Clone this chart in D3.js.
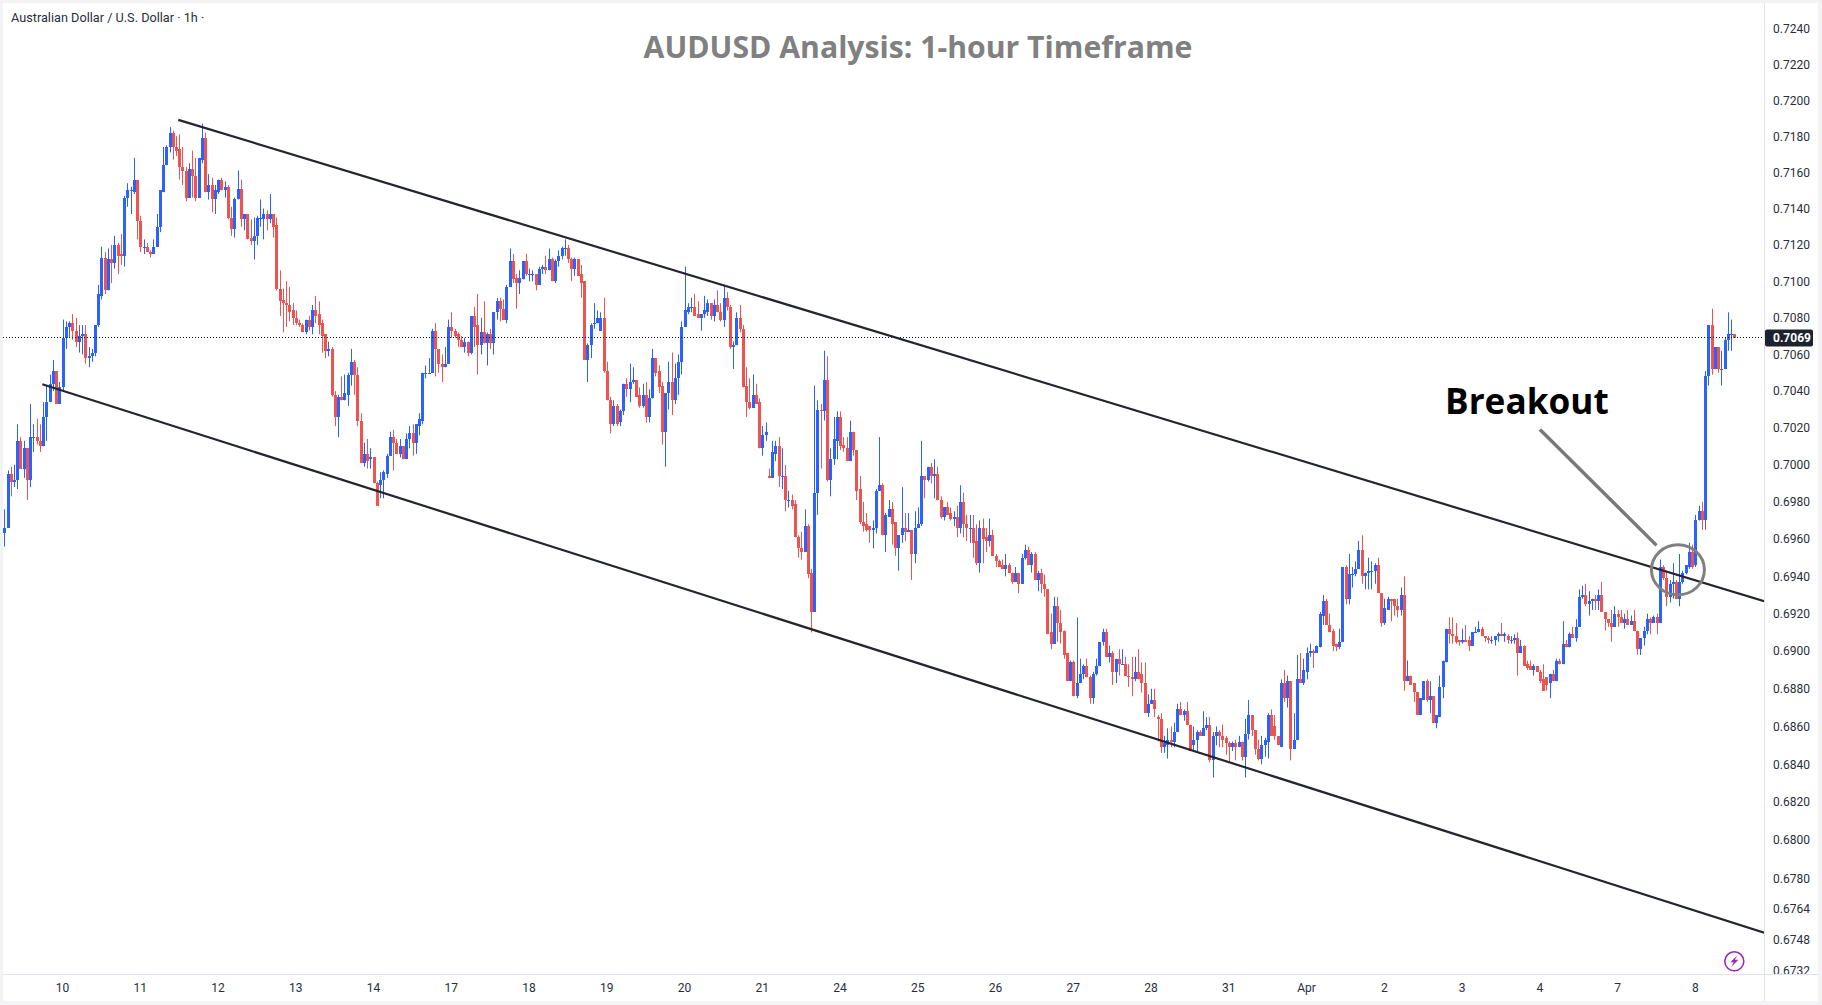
<!DOCTYPE html>
<html>
<head>
<meta charset="utf-8">
<title>AUDUSD Analysis: 1-hour Timeframe</title>
<script src="https://cdn.jsdelivr.net/npm/d3@7/dist/d3.min.js"></script>
<style>
html,body{margin:0;padding:0;background:#fff;overflow:hidden}
svg{display:block}
</style>
</head>
<body>
<div id="chart"></div>
<script>
// Hourly candles per trading session, each row: [open, high, low, close]
const mar07 = [[.6963,.6976,.6956,.6966],[.6966,.6997,.6966,.6995],[.6995,.6999,.6983,.6991],[.6991,.7000,.6988,.6992],[.6992,.7022,.6987,.7013],[.7013,.7015,.6998,.6998],[.6998,.7013,.6993,.7009],[.7009,.7009,.6981,.6992],[.6992,.7033,.6988,.7015],[.7015,.7022,.7007,.7015],[.7015,.7025,.7011,.7013],[.7013,.7022,.7007,.7010],[.7010,.7034,.7010,.7026],[.7026,.7043,.7013,.7034],[.7034,.7049,.7034,.7044],[.7044,.7057,.7040,.7051],[.7051,.7051,.7033,.7033],[.7033,.7045,.7033,.7042]];
const mar10 = [[.7042,.7079,.7040,.7069],[.7069,.7078,.7063,.7075],[.7075,.7078,.7069,.7077],[.7077,.7082,.7068,.7073],[.7073,.7080,.7064,.7067],[.7067,.7076,.7061,.7070],[.7070,.7076,.7060,.7071],[.7071,.7076,.7055,.7058],[.7058,.7064,.7053,.7059],[.7059,.7063,.7056,.7061],[.7061,.7076,.7059,.7076],[.7076,.7098,.7075,.7093],[.7092,.7119,.7090,.7113],[.7113,.7116,.7093,.7095],[.7095,.7118,.7095,.7112],[.7112,.7120,.7099,.7110],[.7110,.7125,.7107,.7120],[.7120,.7121,.7104,.7114],[.7115,.7126,.7109,.7114],[.7114,.7147,.7108,.7146],[.7146,.7154,.7141,.7150],[.7150,.7152,.7137,.7150],[.7149,.7168,.7148,.7156],[.7156,.7156,.7123,.7133]];
const mar11 = [[.7133,.7136,.7116,.7119],[.7119,.7123,.7115,.7119],[.7119,.7121,.7116,.7116],[.7116,.7117,.7113,.7115],[.7115,.7123,.7115,.7119],[.7119,.7137,.7119,.7130],[.7130,.7150,.7127,.7150],[.7149,.7174,.7149,.7164],[.7164,.7175,.7164,.7174],[.7174,.7185,.7171,.7182],[.7182,.7183,.7167,.7174],[.7174,.7180,.7169,.7172],[.7173,.7181,.7156,.7163],[.7163,.7174,.7153,.7161],[.7161,.7163,.7144,.7146],[.7146,.7165,.7146,.7162],[.7162,.7172,.7146,.7158],[.7158,.7168,.7144,.7146],[.7146,.7168,.7146,.7168],[.7167,.7187,.7165,.7179],[.7179,.7182,.7149,.7149],[.7149,.7159,.7145,.7153],[.7153,.7157,.7138,.7145],[.7145,.7153,.7137,.7150]];
const mar12 = [[.7149,.7156,.7148,.7156],[.7156,.7157,.7150,.7150],[.7150,.7155,.7146,.7152],[.7152,.7153,.7134,.7135],[.7135,.7141,.7125,.7129],[.7129,.7146,.7124,.7145],[.7145,.7161,.7145,.7151],[.7151,.7156,.7130,.7134],[.7134,.7137,.7128,.7137],[.7137,.7137,.7123,.7123],[.7124,.7134,.7120,.7122],[.7122,.7135,.7112,.7125],[.7125,.7136,.7120,.7135],[.7135,.7145,.7130,.7135],[.7134,.7140,.7123,.7137],[.7137,.7139,.7128,.7134],[.7134,.7148,.7132,.7137],[.7137,.7137,.7124,.7130],[.7131,.7135,.7095,.7096],[.7096,.7106,.7081,.7089],[.7090,.7096,.7072,.7088],[.7088,.7100,.7075,.7087],[.7087,.7097,.7078,.7083],[.7084,.7088,.7076,.7080]];
const mar13 = [[.7080,.7084,.7076,.7077],[.7077,.7079,.7075,.7076],[.7076,.7077,.7072,.7072],[.7072,.7079,.7071,.7079],[.7079,.7081,.7073,.7075],[.7075,.7087,.7071,.7084],[.7084,.7092,.7077,.7081],[.7082,.7089,.7071,.7076],[.7077,.7079,.7061,.7070],[.7071,.7071,.7058,.7062],[.7062,.7067,.7059,.7063],[.7063,.7064,.7037,.7038],[.7038,.7040,.7021,.7026],[.7026,.7038,.7015,.7037],[.7037,.7048,.7035,.7035],[.7035,.7049,.7035,.7039],[.7038,.7050,.7032,.7049],[.7049,.7063,.7043,.7056],[.7056,.7057,.7038,.7049],[.7049,.7053,.7021,.7024],[.7024,.7028,.7001,.7001],[.7001,.7012,.6999,.7006],[.7006,.7014,.6998,.7002],[.7003,.7009,.6998,.7004]];
const mar14 = [[.7004,.7004,.6990,.6990],[.6990,.6991,.6978,.6978],[.6989,.6996,.6982,.6992],[.6992,.6997,.6982,.6996],[.6995,.7006,.6993,.7005],[.7005,.7018,.7005,.7015],[.7015,.7019,.6997,.7012],[.7012,.7014,.7006,.7006],[.7006,.7014,.7004,.7010],[.7010,.7010,.7003,.7003],[.7003,.7017,.7003,.7014],[.7014,.7021,.7009,.7017],[.7017,.7022,.7005,.7012],[.7012,.7022,.7006,.7022],[.7021,.7028,.7016,.7025],[.7024,.7050,.7022,.7050],[.7050,.7054,.7047,.7050],[.7050,.7058,.7050,.7050],[.7050,.7074,.7050,.7073],[.7073,.7077,.7048,.7063],[.7063,.7063,.7050,.7055],[.7055,.7060,.7045,.7053],[.7053,.7064,.7053,.7055],[.7055,.7079,.7055,.7075]];
const mar17 = [[.7075,.7083,.7069,.7073],[.7073,.7074,.7069,.7070],[.7071,.7072,.7064,.7068],[.7068,.7070,.7064,.7064],[.7064,.7069,.7061,.7067],[.7067,.7067,.7059,.7061],[.7061,.7081,.7060,.7081],[.7081,.7086,.7064,.7075],[.7076,.7093,.7049,.7065],[.7065,.7080,.7060,.7072],[.7072,.7089,.7066,.7066],[.7066,.7072,.7054,.7071],[.7071,.7074,.7063,.7066],[.7066,.7083,.7060,.7083],[.7083,.7091,.7079,.7089],[.7089,.7091,.7078,.7085],[.7085,.7090,.7079,.7079],[.7079,.7098,.7077,.7097],[.7097,.7118,.7097,.7111],[.7111,.7115,.7099,.7101],[.7102,.7104,.7085,.7099],[.7099,.7106,.7093,.7102],[.7101,.7111,.7101,.7111],[.7111,.7115,.7103,.7104]];
const mar18 = [[.7104,.7107,.7100,.7104],[.7104,.7106,.7100,.7104],[.7104,.7104,.7095,.7098],[.7098,.7108,.7098,.7107],[.7107,.7109,.7104,.7108],[.7108,.7114,.7104,.7106],[.7106,.7118,.7106,.7112],[.7112,.7113,.7100,.7100],[.7100,.7112,.7099,.7111],[.7111,.7117,.7108,.7114],[.7114,.7119,.7112,.7118],[.7118,.7123,.7114,.7118],[.7118,.7120,.7110,.7112],[.7112,.7113,.7100,.7107],[.7107,.7113,.7103,.7112],[.7112,.7112,.7103,.7103],[.7104,.7109,.7091,.7099],[.7100,.7100,.7057,.7057],[.7057,.7066,.7045,.7065],[.7065,.7077,.7058,.7076],[.7077,.7088,.7074,.7077],[.7077,.7084,.7077,.7080],[.7073,.7083,.7073,.7080],[.7080,.7091,.7050,.7051]];
const mar19 = [[.7051,.7056,.7035,.7035],[.7035,.7037,.7017,.7022],[.7022,.7035,.7021,.7032],[.7032,.7033,.7021,.7022],[.7023,.7030,.7021,.7029],[.7029,.7044,.7027,.7044],[.7044,.7047,.7037,.7041],[.7041,.7055,.7034,.7045],[.7045,.7053,.7044,.7046],[.7046,.7046,.7037,.7037],[.7038,.7042,.7031,.7032],[.7032,.7044,.7031,.7038],[.7038,.7045,.7023,.7026],[.7026,.7041,.7023,.7036],[.7036,.7063,.7036,.7058],[.7058,.7058,.7048,.7050],[.7051,.7054,.7039,.7042],[.7043,.7045,.7011,.7018],[.7018,.7039,.6999,.7039],[.7039,.7056,.7030,.7045],[.7045,.7061,.7027,.7035],[.7035,.7055,.7033,.7047],[.7047,.7060,.7038,.7056],[.7056,.7078,.7049,.7075]];
const mar20 = [[.7075,.7108,.7075,.7084],[.7083,.7088,.7082,.7086],[.7086,.7091,.7083,.7086],[.7086,.7093,.7081,.7081],[.7082,.7089,.7080,.7080],[.7080,.7082,.7073,.7082],[.7082,.7092,.7080,.7084],[.7083,.7090,.7081,.7088],[.7088,.7088,.7079,.7081],[.7081,.7090,.7078,.7087],[.7087,.7095,.7083,.7083],[.7083,.7088,.7078,.7079],[.7079,.7098,.7075,.7091],[.7091,.7094,.7084,.7086],[.7086,.7087,.7063,.7064],[.7064,.7067,.7052,.7065],[.7065,.7083,.7065,.7080],[.7080,.7087,.7072,.7074],[.7074,.7076,.7042,.7042],[.7043,.7053,.7026,.7034],[.7034,.7047,.7030,.7031],[.7031,.7049,.7031,.7038],[.7038,.7044,.7033,.7033],[.7034,.7036,.7009,.7009]];
const mar21 = [[.7009,.7021,.7005,.7016],[.7016,.7023,.7013,.7018],[.6994,.6998,.6993,.6993],[.6993,.7013,.6993,.7007],[.7006,.7013,.7002,.7010],[.7010,.7015,.6988,.6994],[.6994,.7009,.6987,.6994],[.6994,.7000,.6975,.6981],[.6981,.6986,.6977,.6981],[.6981,.6984,.6976,.6978],[.6979,.6981,.6961,.6961],[.6961,.6962,.6950,.6955],[.6955,.6964,.6949,.6953],[.6953,.6976,.6953,.6967],[.6967,.6968,.6939,.6941],[.6942,.6944,.6910,.6921],[.6921,.7043,.6921,.6985],[.6985,.7035,.6973,.7030],[.7030,.7033,.6998,.7029],[.7029,.7062,.7024,.7046],[.7046,.7059,.6991,.6992],[.6992,.7009,.6983,.7003],[.7003,.7026,.7000,.7014],[.7013,.7029,.7003,.7026]];
const mar24 = [[.7026,.7029,.7008,.7010],[.7011,.7015,.7007,.7009],[.7009,.7015,.7002,.7002],[.7002,.7024,.7002,.7018],[.7018,.7018,.7005,.7008],[.7008,.7008,.6981,.6986],[.6987,.6994,.6968,.6969],[.6969,.6980,.6964,.6967],[.6968,.6974,.6964,.6965],[.6967,.6967,.6958,.6965],[.6965,.6970,.6955,.6966],[.6966,.6987,.6963,.6986],[.6986,.7015,.6986,.6989],[.6989,.6990,.6962,.6962],[.6962,.6974,.6953,.6973],[.6972,.6981,.6972,.6976],[.6976,.6980,.6957,.6968],[.6969,.6969,.6951,.6955],[.6955,.6962,.6943,.6962],[.6962,.6988,.6958,.6966],[.6966,.6974,.6959,.6964],[.6964,.6974,.6964,.6965],[.6965,.6965,.6938,.6952],[.6952,.6975,.6947,.6966]];
const mar25 = [[.6966,.6977,.6966,.6968],[.6968,.7013,.6967,.6994],[.6994,.6994,.6982,.6992],[.6992,.6999,.6991,.6999],[.6999,.7001,.6990,.6994],[.6994,.7003,.6982,.6995],[.6995,.6999,.6981,.6981],[.6981,.6983,.6971,.6972],[.6972,.6977,.6970,.6977],[.6977,.6980,.6973,.6973],[.6974,.6977,.6970,.6971],[.6971,.6975,.6967,.6972],[.6972,.6978,.6961,.6966],[.6966,.6989,.6963,.6980],[.6980,.6985,.6961,.6968],[.6968,.6973,.6959,.6966],[.6966,.6973,.6958,.6966],[.6966,.6973,.6950,.6958],[.6959,.6968,.6946,.6947],[.6947,.6970,.6942,.6966],[.6966,.6971,.6947,.6960],[.6961,.6966,.6953,.6959],[.6959,.6971,.6956,.6962],[.6962,.6965,.6951,.6951]];
const mar26 = [[.6951,.6952,.6945,.6948],[.6948,.6949,.6945,.6945],[.6946,.6949,.6944,.6944],[.6944,.6952,.6940,.6946],[.6946,.6947,.6942,.6942],[.6942,.6942,.6936,.6937],[.6937,.6945,.6937,.6942],[.6942,.6942,.6931,.6936],[.6936,.6952,.6936,.6950],[.6950,.6957,.6949,.6954],[.6954,.6956,.6946,.6946],[.6946,.6953,.6942,.6952],[.6952,.6953,.6938,.6938],[.6938,.6943,.6932,.6942],[.6942,.6944,.6931,.6936],[.6936,.6941,.6929,.6933],[.6933,.6933,.6909,.6909],[.6910,.6920,.6901,.6904],[.6904,.6929,.6904,.6924],[.6924,.6929,.6905,.6915],[.6915,.6922,.6904,.6910],[.6911,.6911,.6896,.6898],[.6899,.6899,.6884,.6884],[.6884,.6895,.6884,.6894]];
const mar27 = [[.6894,.6895,.6876,.6876],[.6876,.6918,.6875,.6883],[.6883,.6896,.6883,.6888],[.6888,.6893,.6885,.6892],[.6892,.6896,.6886,.6886],[.6886,.6887,.6872,.6875],[.6875,.6889,.6872,.6888],[.6888,.6896,.6887,.6892],[.6892,.6905,.6892,.6905],[.6905,.6912,.6903,.6910],[.6910,.6912,.6897,.6897],[.6897,.6903,.6894,.6899],[.6899,.6900,.6882,.6889],[.6889,.6896,.6883,.6896],[.6896,.6901,.6887,.6893],[.6893,.6901,.6893,.6893],[.6893,.6897,.6887,.6887],[.6887,.6893,.6881,.6886],[.6886,.6897,.6876,.6885],[.6885,.6897,.6884,.6889],[.6889,.6901,.6885,.6885],[.6888,.6894,.6878,.6883],[.6883,.6894,.6867,.6867],[.6867,.6877,.6865,.6872]];
const mar28 = [[.6872,.6880,.6872,.6874],[.6874,.6880,.6865,.6869],[.6865,.6866,.6852,.6864],[.6864,.6867,.6846,.6849],[.6849,.6855,.6846,.6851],[.6850,.6859,.6843,.6853],[.6853,.6860,.6849,.6852],[.6852,.6862,.6849,.6857],[.6857,.6872,.6857,.6869],[.6869,.6873,.6866,.6866],[.6866,.6869,.6863,.6868],[.6868,.6873,.6861,.6861],[.6861,.6861,.6847,.6847],[.6850,.6860,.6847,.6853],[.6853,.6858,.6847,.6857],[.6857,.6858,.6855,.6855],[.6855,.6868,.6855,.6859],[.6859,.6865,.6858,.6861],[.6861,.6865,.6841,.6842],[.6842,.6857,.6833,.6855],[.6855,.6860,.6850,.6857],[.6857,.6858,.6849,.6855],[.6855,.6861,.6849,.6853],[.6854,.6855,.6845,.6851]];
const mar31 = [[.6851,.6852,.6841,.6849],[.6849,.6852,.6847,.6851],[.6851,.6853,.6842,.6849],[.6849,.6855,.6849,.6852],[.6852,.6852,.6842,.6844],[.6844,.6864,.6833,.6856],[.6856,.6874,.6853,.6866],[.6866,.6866,.6855,.6858],[.6858,.6858,.6845,.6848],[.6848,.6853,.6842,.6843],[.6843,.6855,.6840,.6850],[.6850,.6854,.6844,.6853],[.6852,.6867,.6843,.6866],[.6866,.6869,.6855,.6855],[.6860,.6866,.6853,.6855],[.6855,.6855,.6850,.6850],[.6849,.6885,.6849,.6883],[.6883,.6890,.6873,.6875],[.6875,.6887,.6870,.6884],[.6884,.6884,.6842,.6848],[.6848,.6867,.6848,.6853],[.6853,.6898,.6853,.6885],[.6885,.6899,.6883,.6883],[.6883,.6896,.6882,.6890]];
const apr01 = [[.6889,.6902,.6885,.6899],[.6899,.6904,.6897,.6900],[.6900,.6901,.6891,.6899],[.6899,.6903,.6899,.6903],[.6902,.6921,.6902,.6920],[.6919,.6930,.6914,.6927],[.6927,.6928,.6914,.6914],[.6914,.6920,.6910,.6910],[.6911,.6912,.6900,.6903],[.6904,.6904,.6900,.6902],[.6902,.6912,.6901,.6905],[.6905,.6945,.6905,.6945],[.6945,.6946,.6925,.6928],[.6928,.6952,.6925,.6941],[.6941,.6945,.6934,.6941],[.6941,.6948,.6940,.6944],[.6944,.6959,.6944,.6954],[.6954,.6962,.6936,.6940],[.6940,.6942,.6933,.6942],[.6942,.6950,.6933,.6943],[.6943,.6948,.6933,.6943],[.6943,.6947,.6936,.6946],[.6946,.6950,.6931,.6931],[.6931,.6931,.6913,.6915]];
const apr02 = [[.6915,.6928,.6914,.6923],[.6922,.6929,.6922,.6928],[.6928,.6928,.6916,.6927],[.6928,.6928,.6919,.6924],[.6924,.6928,.6918,.6922],[.6922,.6934,.6919,.6930],[.6930,.6940,.6879,.6884],[.6884,.6895,.6884,.6887],[.6887,.6887,.6882,.6882],[.6883,.6883,.6873,.6878],[.6878,.6878,.6866,.6866],[.6866,.6875,.6866,.6875],[.6874,.6884,.6874,.6884],[.6884,.6885,.6873,.6874],[.6874,.6884,.6867,.6876],[.6876,.6876,.6862,.6862],[.6862,.6866,.6859,.6866],[.6865,.6887,.6865,.6881],[.6881,.6895,.6875,.6895],[.6894,.6912,.6894,.6912],[.6912,.6918,.6904,.6909],[.6909,.6918,.6904,.6908],[.6908,.6915,.6904,.6905],[.6906,.6906,.6903,.6905]];
const apr03 = [[.6905,.6912,.6904,.6906],[.6906,.6914,.6905,.6905],[.6906,.6908,.6900,.6903],[.6903,.6910,.6903,.6910],[.6910,.6913,.6910,.6910],[.6910,.6916,.6910,.6912],[.6912,.6913,.6908,.6908],[.6908,.6908,.6905,.6907],[.6907,.6908,.6904,.6906],[.6906,.6908,.6904,.6906],[.6906,.6908,.6903,.6908],[.6908,.6910,.6905,.6909],[.6909,.6915,.6908,.6908],[.6908,.6910,.6905,.6909],[.6908,.6909,.6904,.6906],[.6906,.6908,.6904,.6906],[.6906,.6909,.6904,.6907],[.6907,.6910,.6887,.6899],[.6899,.6906,.6899,.6903],[.6903,.6903,.6892,.6892],[.6893,.6895,.6890,.6891],[.6892,.6895,.6890,.6890],[.6890,.6893,.6887,.6892],[.6892,.6892,.6889,.6889]];
const apr04 = [[.6889,.6890,.6883,.6884],[.6885,.6893,.6879,.6879],[.6886,.6886,.6879,.6882],[.6883,.6888,.6875,.6888],[.6888,.6890,.6884,.6884],[.6884,.6896,.6884,.6895],[.6895,.6896,.6893,.6893],[.6893,.6916,.6893,.6904],[.6904,.6906,.6902,.6902],[.6902,.6910,.6902,.6909],[.6909,.6913,.6907,.6907],[.6907,.6917,.6905,.6913],[.6913,.6933,.6913,.6929],[.6929,.6935,.6928,.6930],[.6930,.6936,.6924,.6925],[.6925,.6932,.6919,.6927],[.6927,.6928,.6922,.6928],[.6928,.6930,.6922,.6927],[.6927,.6933,.6922,.6930],[.6930,.6937,.6921,.6921],[.6921,.6921,.6911,.6917],[.6917,.6917,.6913,.6915],[.6915,.6922,.6905,.6913],[.6913,.6924,.6913,.6920]];
const apr07 = [[.6920,.6922,.6913,.6918],[.6918,.6922,.6915,.6915],[.6915,.6920,.6912,.6917],[.6917,.6922,.6914,.6914],[.6914,.6919,.6914,.6916],[.6916,.6922,.6911,.6911],[.6911,.6911,.6898,.6901],[.6901,.6907,.6898,.6907],[.6907,.6913,.6903,.6911],[.6911,.6920,.6909,.6917],[.6917,.6918,.6909,.6915],[.6915,.6919,.6915,.6918],[.6918,.6920,.6909,.6915],[.6915,.6949,.6915,.6945],[.6945,.6946,.6938,.6939],[.6939,.6943,.6924,.6929],[.6929,.6938,.6926,.6936],[.6936,.6947,.6928,.6937],[.6937,.6938,.6928,.6928],[.6928,.6952,.6924,.6937],[.6937,.6943,.6936,.6942],[.6942,.6946,.6941,.6946],[.6945,.6958,.6944,.6953],[.6953,.6957,.6944,.6945]];
const apr08 = [[.6946,.6973,.6945,.6970],[.6970,.6978,.6970,.6975],[.6975,.6980,.6965,.6970],[.6970,.7051,.6965,.7048],[.7048,.7076,.7043,.7076],[.7076,.7085,.7049,.7052],[.7052,.7064,.7052,.7064],[.7064,.7064,.7050,.7052],[.7052,.7062,.7043,.7052],[.7052,.7069,.7052,.7068],[.7068,.7083,.7062,.7071],[.7071,.7079,.7062,.7071],[.7071,.7071,.7069,.7069]];

// Axis labels: one tick per session, and the price grid of the right-hand scale
const dayLabels = ["10","11","12","13","14","17","18","19","20","21","24","25","26","27","28","31","Apr","2","3","4","7","8"];
const priceTicks = [.7240,.7220,.7200,.7180,.7160,.7140,.7120,.7100,.7080,.7060,.7040,.7020,.7000,.6980,.6960,.6940,.6920,.6900,.6880,.6860,.6840,.6820,.6800,.6780,.6764,.6748,.6732];
const lastPrice = 0.7069;

// Channel and annotation anchors as [bar index, price]
const upperChannel = [[53.7,.71891],[543.2,.69267]];
const lowerChannel = [[11.73,.70437],[543.2,.67516]];
const breakoutArrow = [[474,.70192],[510,.69566]];
const breakoutCircle = [516.6,.69435];

const width = 1822, height = 1005;
const paneLeft = 3, paneTop = 3, paneRight = 1764, paneBottom = 974;
const blue = "#2962ff", red = "#ef5350", ink = "#2a2e39", grid = "#e0e3eb", chrome = "#f3f3f5";
const uiFont = "Roboto, 'Open Sans', sans-serif";

const candles = [mar07,mar10,mar11,mar12,mar13,mar14,mar17,mar18,mar19,mar20,mar21,mar24,mar25,mar26,mar27,mar28,mar31,apr01,apr02,apr03,apr04,apr07,apr08]
  .flat().map(([open,high,low,close],i) => ({i,open,high,low,close}));

const x = d3.scaleLinear().domain([0, candles.length - 1]).range([4.3, 1734.3]);
const y = d3.scaleLog().domain([0.724, 0.6748]).range([28.5, 939.5]);
const px = i => Math.round(x(i));

const svg = d3.select("#chart").append("svg").attr("width", width).attr("height", height)
  .attr("viewBox", [0, 0, width, height]);

// Window chrome and pane background
svg.append("rect").attr("width", width).attr("height", height).attr("fill", chrome);
svg.append("rect").attr("x", paneLeft).attr("y", paneTop).attr("width", width - paneLeft - 4).attr("height", height - paneTop - 4).attr("fill", "#fff");

const defs = svg.append("defs");
defs.append("clipPath").attr("id", "pane").append("rect")
  .attr("x", paneLeft).attr("y", paneTop).attr("width", paneRight - paneLeft).attr("height", paneBottom - paneTop);
defs.append("clipPath").attr("id", "scale").append("rect")
  .attr("x", paneRight).attr("y", paneTop).attr("width", width - paneRight).attr("height", paneBottom - paneTop);

const pane = svg.append("g").attr("clip-path", "url(#pane)");

// Wicks, then bodies, snapped to whole pixels
pane.append("g").selectAll("rect").data(candles).join("rect")
  .attr("x", d => px(d.i))
  .attr("y", d => y(d.high))
  .attr("width", 1)
  .attr("height", d => Math.max(1, y(d.low) - y(d.high)))
  .attr("fill", d => d.close >= d.open ? blue : red);

pane.append("g").attr("shape-rendering", "crispEdges").selectAll("rect").data(candles).join("rect")
  .attr("x", d => px(d.i) - 1)
  .attr("y", d => Math.round(y(Math.max(d.open, d.close))))
  .attr("width", 3)
  .attr("height", d => Math.max(1, Math.round(y(Math.min(d.open, d.close))) - Math.round(y(Math.max(d.open, d.close)))))
  .attr("fill", d => d.close >= d.open ? blue : red);

// Last-price line
pane.append("line")
  .attr("x1", paneLeft).attr("x2", paneRight).attr("y1", Math.floor(y(lastPrice)) + .5).attr("y2", Math.floor(y(lastPrice)) + .5)
  .attr("stroke", "#131722").attr("stroke-width", 1).attr("stroke-dasharray", "1 2");

// Descending channel
const channelLine = d3.line().x(d => x(d[0])).y(d => y(d[1]));
pane.selectAll(".channel").data([upperChannel, lowerChannel]).join("path")
  .attr("class", "channel")
  .attr("d", channelLine)
  .attr("fill", "none").attr("stroke", "#23262e").attr("stroke-width", 2.2);

// Breakout annotation
pane.append("path").attr("d", channelLine(breakoutArrow))
  .attr("fill", "none").attr("stroke", "#787878").attr("stroke-width", 3.4);
pane.append("ellipse")
  .attr("cx", x(breakoutCircle[0])).attr("cy", y(breakoutCircle[1]))
  .attr("rx", 26.5).attr("ry", 25)
  .attr("fill", "none").attr("stroke", "#808080").attr("stroke-width", 3);

svg.append("text").attr("x", 1445).attr("y", 414)
  .attr("font-family", "'Open Sans', 'Noto Sans', sans-serif").attr("font-weight", 700).attr("font-size", 35.2)
  .attr("fill", "#000").text("Breakout");

svg.append("text").attr("x", 918).attr("y", 57.5).attr("text-anchor", "middle")
  .attr("font-family", "'Open Sans', 'Noto Sans', sans-serif").attr("font-weight", 700).attr("font-size", 30.2)
  .attr("fill", "#808080").text("AUDUSD Analysis: 1-hour Timeframe");

svg.append("text").attr("x", 11).attr("y", 22)
  .attr("font-family", uiFont).attr("font-size", 12.7).attr("fill", ink)
  .text("Australian Dollar / U.S. Dollar · 1h ·");

// Scale borders
svg.append("line").attr("x1", paneRight + .5).attr("x2", paneRight + .5).attr("y1", paneTop).attr("y2", 1001).attr("stroke", grid);
svg.append("line").attr("x1", paneLeft).attr("x2", width - 4).attr("y1", paneBottom + .5).attr("y2", paneBottom + .5).attr("stroke", grid);

// Price scale
const yAxis = svg.append("g").attr("clip-path", "url(#scale)").append("g")
  .attr("transform", `translate(${paneRight},0)`)
  .call(d3.axisRight(y).tickValues(priceTicks).tickFormat(d3.format(".4f")).tickSize(0).tickPadding(9));
yAxis.select(".domain").remove();
yAxis.selectAll("text").attr("font-family", uiFont).attr("font-size", 12).attr("fill", ink);

// Time scale: a label every 24 bars, starting at the first midnight bar
const dayIndex = dayLabels.map((_, k) => 18 + 24 * k);
const xAxis = svg.append("g")
  .attr("transform", `translate(-0.6,${paneBottom})`)
  .call(d3.axisBottom(x).tickValues(dayIndex).tickFormat((_, k) => dayLabels[k]).tickSize(0).tickPadding(9));
xAxis.select(".domain").remove();
xAxis.selectAll("text").attr("font-family", uiFont).attr("font-size", 12).attr("fill", ink);

// Last-price tag
const tagY = y(lastPrice);
svg.append("rect").attr("x", 1765).attr("y", tagY - 8.5).attr("width", 48).attr("height", 17).attr("rx", 2).attr("fill", "#1e222d");
svg.append("text").attr("x", 1773).attr("y", tagY).attr("dy", "0.35em")
  .attr("font-family", uiFont).attr("font-weight", 700).attr("font-size", 12).attr("fill", "#fff")
  .text(d3.format(".4f")(lastPrice));

// Lightning badge
const badge = svg.append("g").attr("transform", "translate(1734.3,961.3)");
badge.append("circle").attr("r", 9.5).attr("fill", "none").attr("stroke", "#9c27b0").attr("stroke-width", 1.6);
badge.append("path").attr("d", "M3,-6L-4,1L-0.5,1L-3,6L4,-1.5L0.5,-1.5Z").attr("fill", "#9c27b0");
</script>
</body>
</html>
